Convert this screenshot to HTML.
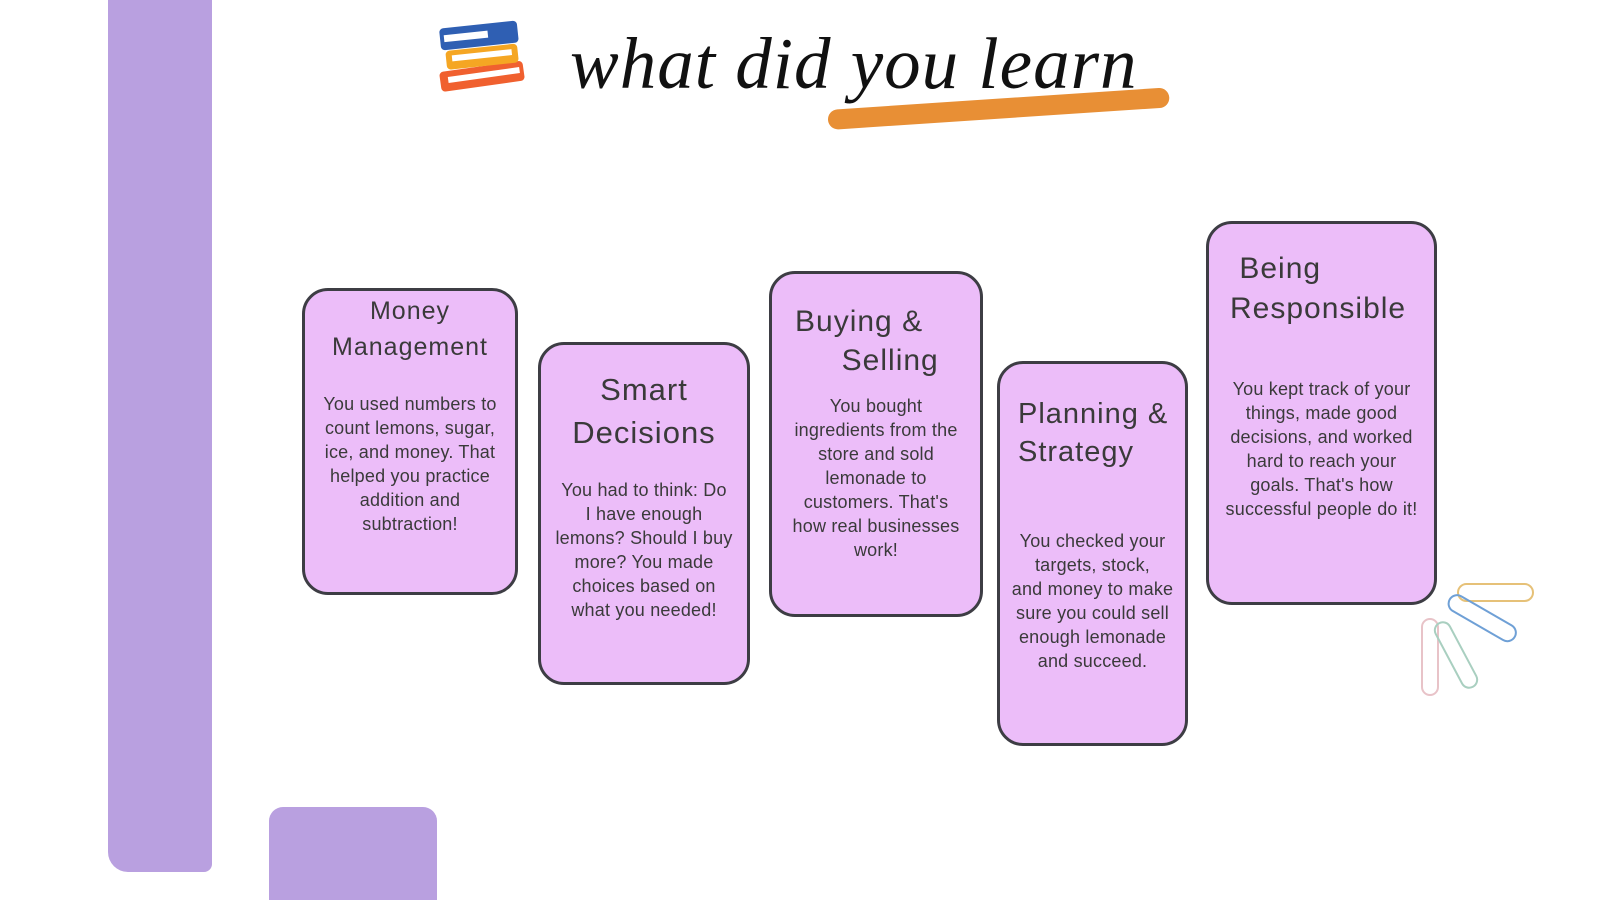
<!DOCTYPE html>
<html><head><meta charset="utf-8"><style>
body{margin:0;width:1600px;height:900px;background:#fff;position:relative;overflow:hidden;font-family:"Liberation Sans","DejaVu Sans",sans-serif;color:#3a3a3a}
.card{position:absolute;background:#ecbdf9;border:3px solid #3d3d44;border-radius:26px;box-sizing:border-box}
.t{position:absolute;text-align:center;white-space:nowrap;line-height:24px;font-size:18px;letter-spacing:0.2px}
.h{position:absolute;white-space:nowrap;font-size:27px;letter-spacing:1px;line-height:38px}
</style></head><body>
<div style="position:absolute;left:108px;top:0;width:104px;height:872px;background:#b9a0e0;border-radius:0 0 8px 20px"></div>
<div style="position:absolute;left:269px;top:807px;width:168px;height:93px;background:#b9a0e0;border-radius:14px 14px 0 0"></div>

<svg style="position:absolute;left:436px;top:16px" width="96" height="78" viewBox="0 0 96 78">
<g transform="rotate(-8 48 60)"><rect x="4" y="50" width="84" height="20" rx="4" fill="#f0602f"/><rect x="12" y="56" width="72" height="6" fill="#fff"/></g>
<g transform="rotate(-6 48 40)"><rect x="10" y="31" width="72" height="19" rx="4" fill="#f5a623"/><rect x="16" y="36" width="60" height="6" fill="#fff"/></g>
<g transform="rotate(-6 48 20)"><rect x="4" y="8" width="78" height="22" rx="4" fill="#2f5fb3"/><rect x="8" y="15" width="44" height="7" fill="#fff"/></g>
</svg>
<div style="position:absolute;left:828px;top:110px;width:342px;height:20px;background:#e88f35;border-radius:12px;transform:rotate(-3.8deg);transform-origin:left center"></div>
<div style="position:absolute;left:570px;top:22px;font-family:'Liberation Serif',serif;font-style:italic;font-size:73px;color:#111;white-space:nowrap;letter-spacing:1px">what did you learn</div>

<div class="card" style="left:302px;top:288px;width:216px;height:307px"></div>
<div class="h" style="left:302px;width:216px;top:293px;text-align:center;line-height:36px;font-size:25px">Money<br>Management</div>
<div class="t" style="left:302px;width:216px;top:392px">You used numbers to<br>count lemons, sugar,<br>ice, and money. That<br>helped you practice<br>addition and<br>subtraction!</div>

<div class="card" style="left:538px;top:342px;width:212px;height:343px"></div>
<div class="h" style="left:538px;width:212px;top:368px;text-align:center;font-size:31px;line-height:43px">Smart<br>Decisions</div>
<div class="t" style="left:538px;width:212px;top:478px">You had to think: Do<br>I have enough<br>lemons? Should I buy<br>more? You made<br>choices based on<br>what you needed!</div>

<div class="card" style="left:769px;top:271px;width:214px;height:346px"></div>
<div class="h" style="left:795px;top:302px;font-size:30px;line-height:39px">Buying &amp;<br>&nbsp;&nbsp;&nbsp;&nbsp;&nbsp;Selling</div>
<div class="t" style="left:769px;width:214px;top:394px">You bought<br>ingredients from the<br>store and sold<br>lemonade to<br>customers. That's<br>how real businesses<br>work!</div>

<div class="card" style="left:997px;top:361px;width:191px;height:385px"></div>
<div class="h" style="left:1018px;top:395px;font-size:29px;line-height:38px">Planning &amp;<br>Strategy</div>
<div class="t" style="left:997px;width:191px;top:529px">You checked your<br>targets, stock,<br>and money to make<br>sure you could sell<br>enough lemonade<br>and succeed.</div>

<div class="card" style="left:1206px;top:221px;width:231px;height:384px"></div>
<div class="h" style="left:1230px;top:249px;font-size:30px;line-height:40px">&nbsp;Being<br>Responsible</div>
<div class="t" style="left:1206px;width:231px;top:377px">You kept track of your<br>things, made good<br>decisions, and worked<br>hard to reach your<br>goals. That's how<br>successful people do it!</div>

<svg style="position:absolute;left:1410px;top:575px" width="140" height="130" viewBox="0 0 140 130" fill="none" stroke-width="2">
<rect x="48" y="9" width="75" height="17" rx="8.5" stroke="#e6c178"/>
<rect x="40" y="16" width="75" height="17" rx="8.5" stroke="#6fa0d6" transform="rotate(30 40 24)"/>
<rect x="12" y="44" width="16" height="76" rx="8" stroke="#e8c3c8"/>
<rect x="38" y="44" width="16" height="72" rx="8" stroke="#a9cfc0" transform="rotate(-28 46 80)"/>
</svg>
</body></html>
